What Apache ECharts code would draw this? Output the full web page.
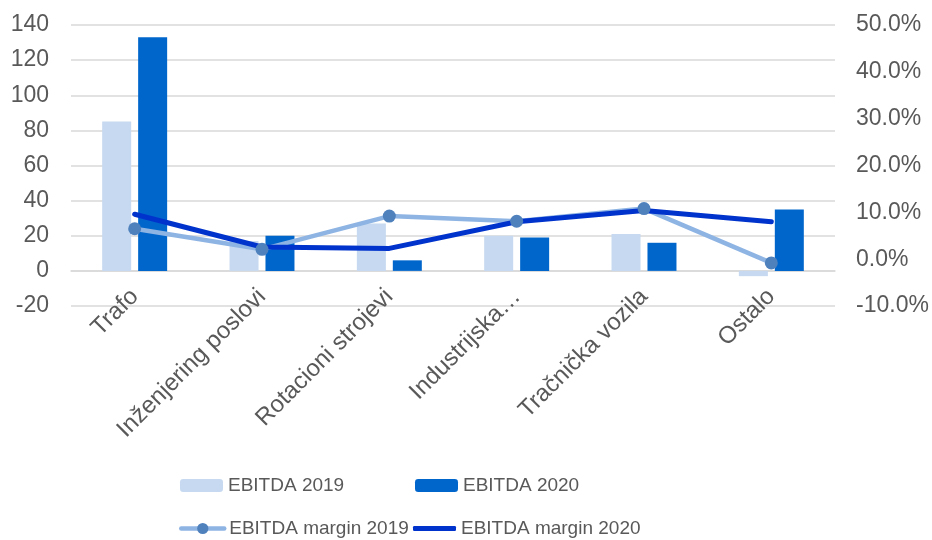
<!DOCTYPE html>
<html>
<head>
<meta charset="utf-8">
<script src="https://cdn.jsdelivr.net/npm/echarts@6/dist/echarts.min.js"></script>
<style>
html,body{margin:0;padding:0;background:#fff;}
#main{width:932px;height:540px;}
</style>
</head>
<body>
<div id="main"></div>
<script>
// kategorije
var categories = ['Trafo', 'Inženjering poslovi', 'Rotacioni strojevi', 'Industrijska…', 'Tračnička vozila', 'Ostalo'];
// EBITDA (lijeva os)
var ebitda2019 = [85, 17, 27, 20, 21, -3];
var ebitda2020 = [133, 20, 6, 19, 16, 35];
// EBITDA marža (desna os)
var margin2019 = [0.065, 0.021, 0.092, 0.081, 0.108, -0.008];
var margin2020 = [0.096, 0.026, 0.023, 0.080, 0.104, 0.080];

var myChart = echarts.init(document.getElementById('main'));
var font = 'Liberation Sans, Arial, sans-serif';
var txt = '#595959';

//legenda - jedna stavka po komponenti
function leg(name, left, top, h, icon) {
	var o = {
		left: left,
		top: top,
		padding: 0,
		itemWidth: 43,
		itemHeight: h,
		itemGap: 0,
		lineStyle: { width: 4.5 },
		textStyle: { fontSize: 19, color: txt, fontFamily: font },
		data: [name]
	};
	if (icon) o.data = [{ name: name, icon: icon }];
	return o;
}

var option = {
	animation: false,
	textStyle: { fontFamily: font },
	grid: { left: 71, right: 97, top: 25, bottom: 234 },
	legend: [
		leg('EBITDA 2019', 180, 476, 13),
		leg('EBITDA 2020', 415, 476, 13),
		leg('EBITDA margin 2019', 179, 519, 14),
		leg('EBITDA margin 2020', 413, 519, 5, 'roundRect')
	],
	xAxis: {
		type: 'category',
		data: categories,
		axisLine: { onZero: true, lineStyle: { color: '#D9D9D9', width: 1.5 } },
		axisTick: { show: false },
		axisLabel: { rotate: 45, fontSize: 24, color: txt, margin: -13, interval: 0 }
	},
	yAxis: [{
		type: 'value',
		min: -20,
		max: 140,
		interval: 20,
		axisLine: { show: false },
		axisTick: { show: false },
		axisLabel: { fontSize: 23, color: txt, margin: 22 },
		splitLine: { lineStyle: { color: '#D9D9D9', width: 1.5 } }
	}, {
		type: 'value',
		min: -0.1,
		max: 0.5,
		interval: 0.1,
		axisLine: { show: false },
		axisTick: { show: false },
		splitLine: { show: false },
		axisLabel: {
			fontSize: 23, color: txt, margin: 21,
			formatter: function (v) { return (v * 100).toFixed(1) + '%'; }
		}
	}],
	series: [{
		name: 'EBITDA 2019',
		type: 'bar',
		data: ebitda2019,
		barWidth: 29,
		barGap: '24%',
		itemStyle: { color: '#C6D9F0' }
	}, {
		name: 'EBITDA 2020',
		type: 'bar',
		data: ebitda2020,
		barWidth: 29,
		itemStyle: { color: '#0066CC' }
	}, {
		name: 'EBITDA margin 2019',
		type: 'line',
		yAxisIndex: 1,
		data: margin2019,
		symbol: 'circle',
		symbolSize: 13,
		lineStyle: { color: '#8EB4E3', width: 4.5, cap: 'round' },
		itemStyle: { color: '#4F81BD' }
	}, {
		name: 'EBITDA margin 2020',
		type: 'line',
		yAxisIndex: 1,
		data: margin2020,
		symbol: 'none',
		lineStyle: { color: '#0033CC', width: 5, cap: 'round' },
		itemStyle: { color: '#0033CC' }
	}]
};

myChart.setOption(option);
</script>
</body>
</html>
